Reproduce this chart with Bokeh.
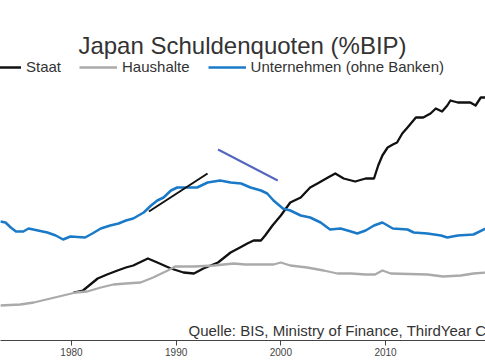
from bokeh.plotting import figure
from bokeh.models import Range1d, FixedTicker, Legend, LegendItem, Label
from bokeh.embed import file_html
from bokeh.resources import INLINE

# --- data (% of GDP) ---
staat_year = [1980.2, 1981.1, 1982.5, 1983.4, 1984.4, 1985.2, 1985.9, 1987.3, 1988.2, 1989.5,
              1990.7, 1991.7, 1992.6, 1994.0, 1995.2, 1996.1, 1996.8, 1997.4, 1998.1, 1998.5,
              1999.2, 2000.0, 2000.9, 2001.9, 2002.8, 2003.5, 2004.5, 2005.2, 2006.0, 2007.1,
              2008.1, 2008.9, 2009.3, 2009.7, 2010.2, 2010.7, 2011.1, 2011.6, 2012.1, 2012.9,
              2013.6, 2014.3, 2014.8, 2015.4, 2015.9, 2016.2, 2016.9, 2018.1, 2018.6, 2019.1, 2019.6]
staat_val = [48, 50, 62, 66, 70, 73, 75, 82, 78, 72,
             68, 67, 72, 78, 88, 93, 97, 100, 100, 105,
             115, 125, 138, 143, 153, 157, 163, 167, 162, 159,
             162, 162, 175, 185, 193, 196, 198, 207, 213, 223,
             223, 227, 232, 229, 235, 240, 238, 238, 235, 243, 243]

haushalte_year = [1973.2, 1975.1, 1976.4, 1978.0, 1979.2, 1980.4, 1981.5, 1982.8, 1984.0, 1985.2,
                  1986.6, 1987.8, 1989.2, 1989.9, 1991.7, 1993.6, 1995.5, 1996.6, 1999.3, 2000.0,
                  2000.9, 2002.5, 2004.1, 2005.4, 2006.7, 2008.1, 2009.0, 2009.7, 2010.5, 2014.0,
                  2015.5, 2017.2, 2018.4, 2019.6]
haushalte_val = [35, 36, 38, 42, 45, 48, 49, 53, 56, 57,
                 58, 63, 70, 74, 74, 75, 77, 76, 76, 78,
                 75, 73, 70, 67, 67, 66, 66, 70, 67, 66,
                 64, 65, 67, 68]

unternehmen_year = [1973.2, 1973.7, 1974.2, 1974.7, 1975.4, 1975.9, 1976.8, 1977.7, 1978.5, 1979.2,
                    1979.9, 1981.3, 1982.0, 1982.8, 1983.7, 1984.5, 1985.2, 1985.9, 1986.9, 1987.6,
                    1988.2, 1988.8, 1989.5, 1990.1, 1991.1, 1992.0, 1993.0, 1994.2, 1995.2, 1996.2,
                    1997.1, 1998.1, 1998.7, 1999.3, 2000.2, 2000.9, 2001.9, 2002.8, 2003.8, 2004.7,
                    2005.7, 2006.7, 2007.3, 2008.1, 2008.9, 2009.7, 2010.7, 2012.1, 2012.7, 2014.0,
                    2015.3, 2015.9, 2016.9, 2018.4, 2019.6]
unternehmen_val = [119, 118, 113, 109, 109, 112, 110, 108, 105, 101,
                   104, 103, 107, 112, 115, 117, 120, 122, 128, 135,
                   140, 143, 150, 153, 153, 153, 158, 160, 158, 157,
                   153, 150, 147, 140, 132, 130, 125, 123, 118, 111,
                   112, 109, 107, 110, 115, 118, 112, 111, 108, 107,
                   105, 103, 105, 106, 112]

trend_staat_year = [1987.4, 1993.0]
trend_staat_val = [129, 167]
trend_unt_year = [1994.0, 1999.7]
trend_unt_val = [191, 160]

tick_years = [1980, 1990, 2000, 2010, 2020]

FONT = "Liberation Sans"

p = figure(frame_width=485, frame_height=340, output_backend="svg", toolbar_location=None,
           x_range=Range1d(1973.22, 2019.55), y_range=Range1d(0, 340),
           y_axis_location=None, min_border_left=0, min_border_right=0,
           min_border_top=0, min_border_bottom=0)
p.outline_line_color = None
p.xgrid.visible = False
p.ygrid.visible = False
p.background_fill_color = "white"
p.border_fill_color = "white"

ax = p.xaxis[0]
ax.ticker = FixedTicker(ticks=tick_years)
ax.axis_line_color = "#444444"
ax.axis_line_width = 1.2
ax.major_tick_line_color = "#444444"
ax.major_tick_out = 5
ax.major_tick_in = 0
ax.minor_tick_line_color = None
ax.major_label_text_font = FONT
ax.major_label_text_font_size = "10px"
ax.major_label_text_color = "#444444"
ax.major_label_standoff = 2

r_staat = p.line(staat_year, staat_val, line_color="#111111", line_width=2.3, line_join="round")
r_haus = p.line(haushalte_year, haushalte_val, line_color="#aaaaaa", line_width=2.3, line_join="round")
r_unt = p.line(unternehmen_year, unternehmen_val, line_color="#1a7ac7", line_width=2.5, line_join="round")
p.line(trend_staat_year, trend_staat_val, line_color="#111111", line_width=2)
p.line(trend_unt_year, trend_unt_val, line_color="#5566c0", line_width=2)

legend = Legend(items=[LegendItem(label="Staat", renderers=[r_staat]),
                       LegendItem(label="Haushalte", renderers=[r_haus]),
                       LegendItem(label="Unternehmen (ohne Banken)", renderers=[r_unt])],
                orientation="horizontal", location=(-17, 265),
                label_text_font=FONT, label_text_font_size="15px", label_text_color="#333333",
                glyph_width=38, glyph_height=16, label_height=16, label_standoff=5, spacing=18,
                padding=0, margin=0, border_line_color=None, background_fill_alpha=0)
p.add_layout(legend, "center")

title = Label(x=242, y=295, x_units="screen", y_units="screen", text="Japan Schuldenquoten (%BIP)",
              text_font=FONT, text_font_size="24px", text_color="#333333",
              text_align="center", text_baseline="alphabetic")
p.add_layout(title)

source = Label(x=188, y=10, x_units="screen", y_units="screen",
               text="Quelle: BIS, Ministry of Finance, ThirdYear Capital",
               text_font=FONT, text_font_size="15px", text_color="#333333",
               text_align="left", text_baseline="alphabetic")
p.add_layout(source)

open("out.html", "w").write(file_html(p, INLINE))
